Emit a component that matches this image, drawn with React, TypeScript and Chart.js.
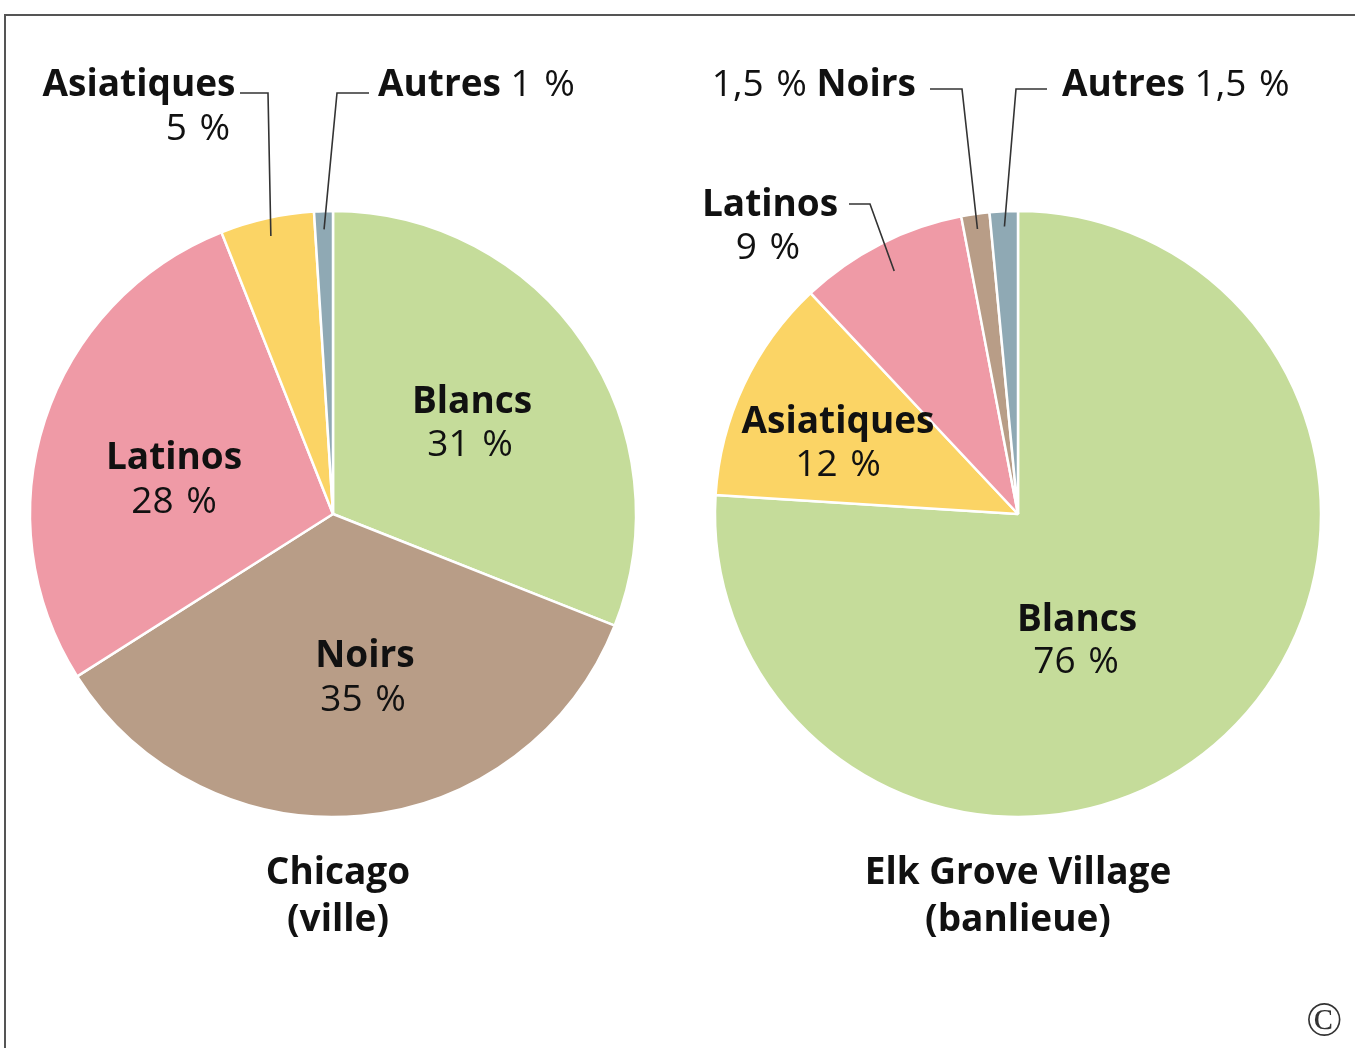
import React, { useEffect, useRef } from "react";
import { Chart, registerables } from "chart.js";

Chart.register(...registerables);

// ---------- Data ----------
const chicagoCategories = ["Blancs", "Noirs", "Latinos", "Asiatiques", "Autres"];
const chicagoValues = [31, 35, 28, 5, 1];
const chicagoValueLabels = ["31 %", "35 %", "28 %", "5 %", "1 %"];

const elkCategories = ["Blancs", "Asiatiques", "Latinos", "Noirs", "Autres"];
const elkValues = [76, 12, 9, 1.5, 1.5];
const elkValueLabels = ["76 %", "12 %", "9 %", "1,5 %", "1,5 %"];

const chicagoTitle = ["Chicago", "(ville)"];
const elkTitle = ["Elk Grove Village", "(banlieue)"];

// ---------- Styles ----------
const COLORS: Record<string, string> = {
  Blancs: "#c5dc9a",
  Noirs: "#b89d87",
  Latinos: "#ef9aa6",
  Asiatiques: "#fbd465",
  Autres: "#8fa9b4",
};
const FONT = "'Open Sans', 'Noto Sans', sans-serif";
const FS = 37;
const TEXT = "#111";
const LINE = "#333";
const PCT_GAP = 3; // extra space before the % sign
const DY = 2; // vertical text nudge

type LabelSpec =
  | { kind: "stack"; nx: number; ny: number; vx: number; vy: number }
  | { kind: "inline"; order: "name-value" | "value-name"; align: "left" | "right"; x: number; y: number };

type LeaderSpec = { pts: [number, number][]; frac: number };

// annotation layout (page coordinates)
const chicagoLayout: Record<string, { label: LabelSpec; leader?: LeaderSpec }> = {
  Blancs: { label: { kind: "stack", nx: 472, ny: 400, vx: 470, vy: 443 } },
  Noirs: { label: { kind: "stack", nx: 365, ny: 654, vx: 363, vy: 698 } },
  Latinos: { label: { kind: "stack", nx: 174, ny: 456, vx: 174, vy: 500 } },
  Asiatiques: {
    label: { kind: "stack", nx: 139, ny: 83, vx: 198, vy: 127 },
    leader: { pts: [[240, 93], [268, 93]], frac: 0.94 },
  },
  Autres: {
    label: { kind: "inline", order: "name-value", align: "left", x: 378, y: 83 },
    leader: { pts: [[369, 93], [337, 93]], frac: 0.94 },
  },
};

const elkLayout: Record<string, { label: LabelSpec; leader?: LeaderSpec }> = {
  Blancs: { label: { kind: "stack", nx: 1077, ny: 618, vx: 1076, vy: 660 } },
  Asiatiques: { label: { kind: "stack", nx: 838, ny: 420, vx: 838, vy: 463 } },
  Latinos: {
    label: { kind: "stack", nx: 770, ny: 203, vx: 768, vy: 246 },
    leader: { pts: [[849, 204], [870, 204]], frac: 0.9 },
  },
  Noirs: {
    label: { kind: "inline", order: "value-name", align: "right", x: 916, y: 83 },
    leader: { pts: [[930, 89], [962, 89]], frac: 0.95 },
  },
  Autres: {
    label: { kind: "inline", order: "name-value", align: "left", x: 1062, y: 83 },
    leader: { pts: [[1047, 89], [1016, 89]], frac: 0.95 },
  },
};

// width of a value label drawn with a slightly wider gap before "%"
function valueWidth(ctx: CanvasRenderingContext2D, s: string) {
  const idx = s.lastIndexOf(" ");
  if (idx < 0) return ctx.measureText(s).width;
  return ctx.measureText(s.slice(0, idx + 1)).width + PCT_GAP + ctx.measureText(s.slice(idx + 1)).width;
}
function drawValue(ctx: CanvasRenderingContext2D, s: string, x: number, y: number) {
  const idx = s.lastIndexOf(" ");
  ctx.textAlign = "left";
  if (idx < 0) {
    ctx.fillText(s, x, y);
    return;
  }
  const a = s.slice(0, idx + 1);
  ctx.fillText(a, x, y);
  ctx.fillText(s.slice(idx + 1), x + ctx.measureText(a).width + PCT_GAP, y);
}

function makePlugin(
  offsetX: number,
  categories: string[],
  valueLabels: string[],
  layout: Record<string, { label: LabelSpec; leader?: LeaderSpec }>,
  title: string[],
  titleX: number
) {
  return {
    id: "annot",
    afterDraw(chart: any) {
      const ctx = chart.ctx as CanvasRenderingContext2D;
      const meta = chart.getDatasetMeta(0);
      ctx.save();
      ctx.translate(-offsetX, 0);
      const bold = `bold ${FS}px ${FONT}`;
      const reg = `${FS}px ${FONT}`;
      ctx.fillStyle = TEXT;
      ctx.textBaseline = "middle";
      categories.forEach((cat, i) => {
        const spec = layout[cat];
        if (!spec) return;
        const lab = spec.label;
        if (lab.kind === "stack") {
          ctx.textAlign = "center";
          ctx.font = bold;
          ctx.fillText(cat, lab.nx, lab.ny + DY);
          ctx.font = reg;
          const w = valueWidth(ctx, valueLabels[i]);
          drawValue(ctx, valueLabels[i], lab.vx - w / 2, lab.vy + DY);
        } else {
          ctx.font = bold;
          const wName = ctx.measureText(cat).width;
          ctx.font = reg;
          const wSpace = ctx.measureText(" ").width;
          const wVal = valueWidth(ctx, valueLabels[i]);
          const total = wName + wSpace + wVal;
          const x0 = lab.align === "left" ? lab.x : lab.x - total;
          ctx.textAlign = "left";
          if (lab.order === "name-value") {
            ctx.font = bold;
            ctx.fillText(cat, x0, lab.y + DY);
            ctx.font = reg;
            drawValue(ctx, valueLabels[i], x0 + wName + wSpace, lab.y + DY);
          } else {
            ctx.font = reg;
            drawValue(ctx, valueLabels[i], x0, lab.y + DY);
            ctx.font = bold;
            ctx.fillText(cat, x0 + wVal + wSpace, lab.y + DY);
          }
        }
        if (spec.leader) {
          const arc = meta.data[i];
          const { x, y, startAngle, endAngle, outerRadius } = arc.getProps(
            ["x", "y", "startAngle", "endAngle", "outerRadius"],
            true
          );
          const mid = (startAngle + endAngle) / 2;
          const ex = x + offsetX + Math.cos(mid) * outerRadius * spec.leader.frac;
          const ey = y + Math.sin(mid) * outerRadius * spec.leader.frac;
          ctx.beginPath();
          ctx.strokeStyle = LINE;
          ctx.lineWidth = 1.6;
          spec.leader.pts.forEach((p, k) => (k === 0 ? ctx.moveTo(p[0], p[1]) : ctx.lineTo(p[0], p[1])));
          ctx.lineTo(ex, ey);
          ctx.stroke();
        }
      });
      ctx.textAlign = "center";
      ctx.font = bold;
      ctx.fillText(title[0], titleX, 871 + DY);
      ctx.fillText(title[1], titleX, 918 + DY);
      ctx.restore();
    },
  };
}

function PieCanvas(props: {
  left: number;
  width: number;
  padLeft: number;
  categories: string[];
  values: number[];
  valueLabels: string[];
  layout: Record<string, { label: LabelSpec; leader?: LeaderSpec }>;
  title: string[];
  titleX: number;
}) {
  const ref = useRef<HTMLCanvasElement | null>(null);
  useEffect(() => {
    if (!ref.current) return;
    const chart = new Chart(ref.current, {
      type: "pie",
      data: {
        labels: props.categories,
        datasets: [
          {
            data: props.values,
            backgroundColor: props.categories.map((c) => COLORS[c]),
            borderColor: "#ffffff",
            borderWidth: 2.5,
            radius: 303,
          } as any,
        ],
      },
      options: {
        responsive: false,
        maintainAspectRatio: false,
        animation: false,
        layout: { padding: { left: props.padLeft, bottom: 20, top: 0, right: 0 } },
        plugins: { legend: { display: false }, tooltip: { enabled: false } },
      },
      plugins: [
        makePlugin(props.left, props.categories, props.valueLabels, props.layout, props.title, props.titleX),
      ],
    });
    return () => chart.destroy();
  }, []);
  return (
    <canvas
      ref={ref}
      width={props.width}
      height={1048}
      style={{ position: "absolute", left: props.left, top: 0, width: props.width, height: 1048 }}
    />
  );
}

export default function App() {
  useEffect(() => {
    document.body.style.margin = "0";
  }, []);
  return (
    <div
      style={{
        position: "absolute",
        left: 0,
        top: 0,
        width: 1355,
        height: 1048,
        overflow: "hidden",
        background: "#fff",
      }}
    >
      <div
        style={{
          position: "absolute",
          left: 4,
          top: 14,
          width: 1400,
          height: 1100,
          borderTop: "2px solid #555",
          borderLeft: "2px solid #555",
        }}
      />
      <PieCanvas
        left={0}
        width={666}
        padLeft={0}
        categories={chicagoCategories}
        values={chicagoValues}
        valueLabels={chicagoValueLabels}
        layout={chicagoLayout}
        title={chicagoTitle}
        titleX={338}
      />
      <PieCanvas
        left={666}
        width={689}
        padLeft={15}
        categories={elkCategories}
        values={elkValues}
        valueLabels={elkValueLabels}
        layout={elkLayout}
        title={elkTitle}
        titleX={1018}
      />
      <span
        style={{
          position: "absolute",
          left: 1306,
          top: 990,
          fontFamily: "'Liberation Serif', 'DejaVu Serif', serif",
          fontSize: 48,
          lineHeight: "60px",
          color: "#333",
        }}
      >
        ©
      </span>
    </div>
  );
}
